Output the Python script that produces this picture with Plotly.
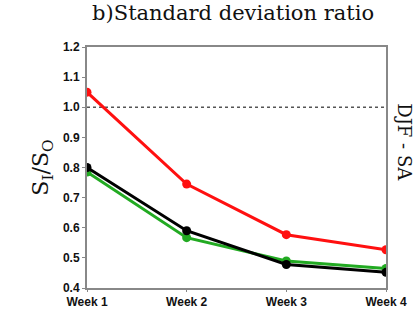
import plotly.graph_objects as go

weeks = ["Week 1", "Week 2", "Week 3", "Week 4"]
red_vals = [1.05, 0.745, 0.577, 0.527]
green_vals = [0.785, 0.567, 0.49, 0.465]
black_vals = [0.80, 0.59, 0.478, 0.452]
y_ticks = [0.4, 0.5, 0.6, 0.7, 0.8, 0.9, 1.0, 1.1, 1.2]

tick_font = dict(family="Liberation Sans Narrow, Arial Narrow, sans-serif",
                 size=12, color="#111111", weight="bold")
serif = "DejaVu Serif, serif"

fig = go.Figure()
for vals, col in [(green_vals, "#22aa22"), (black_vals, "#000000"), (red_vals, "#ff1010")]:
    fig.add_trace(go.Scatter(
        x=list(range(len(weeks))), y=vals, mode="lines+markers",
        line=dict(color=col, width=3),
        marker=dict(color=col, size=9),
        showlegend=False,
    ))

fig.add_shape(type="line", xref="paper", x0=0, x1=1, yref="y", y0=1.0, y1=1.0,
              line=dict(color="#555555", width=1.5, dash="dot"), layer="below")

fig.update_layout(
    width=420, height=321,
    margin=dict(l=87, r=34, t=47, b=30),
    paper_bgcolor="white", plot_bgcolor="white",
    title=dict(text="b)Standard deviation ratio", x=0.555, xanchor="center",
               y=0.985, yanchor="top",
               font=dict(family=serif, size=21, color="#111111")),
    xaxis=dict(range=[0, 3], tickmode="array", tickvals=list(range(len(weeks))),
               ticktext=weeks, showgrid=False, zeroline=False,
               showline=True, linecolor="#888888", linewidth=2, mirror=True,
               ticks="outside", ticklen=2, tickcolor="#888888",
               tickfont=tick_font),
    yaxis=dict(range=[0.4, 1.2], tickmode="array", tickvals=y_ticks,
               ticktext=[f"{v:.1f}" for v in y_ticks],
               showgrid=False, zeroline=False,
               showline=True, linecolor="#888888", linewidth=2, mirror=True,
               ticks="outside", ticklen=3, tickcolor="#888888",
               tickfont=tick_font,
               title=dict(text="S<sub>I</sub>/S<sub>O</sub>", standoff=8,
                          font=dict(family=serif, size=22, color="#111111"))),
)

fig.add_annotation(text="DJF - SA", xref="paper", yref="paper", x=1.0, y=0.607,
                   xanchor="left", yanchor="middle", xshift=6, textangle=90,
                   showarrow=False, font=dict(family=serif, size=18, color="#111111"))

fig.write_html("out.html")
